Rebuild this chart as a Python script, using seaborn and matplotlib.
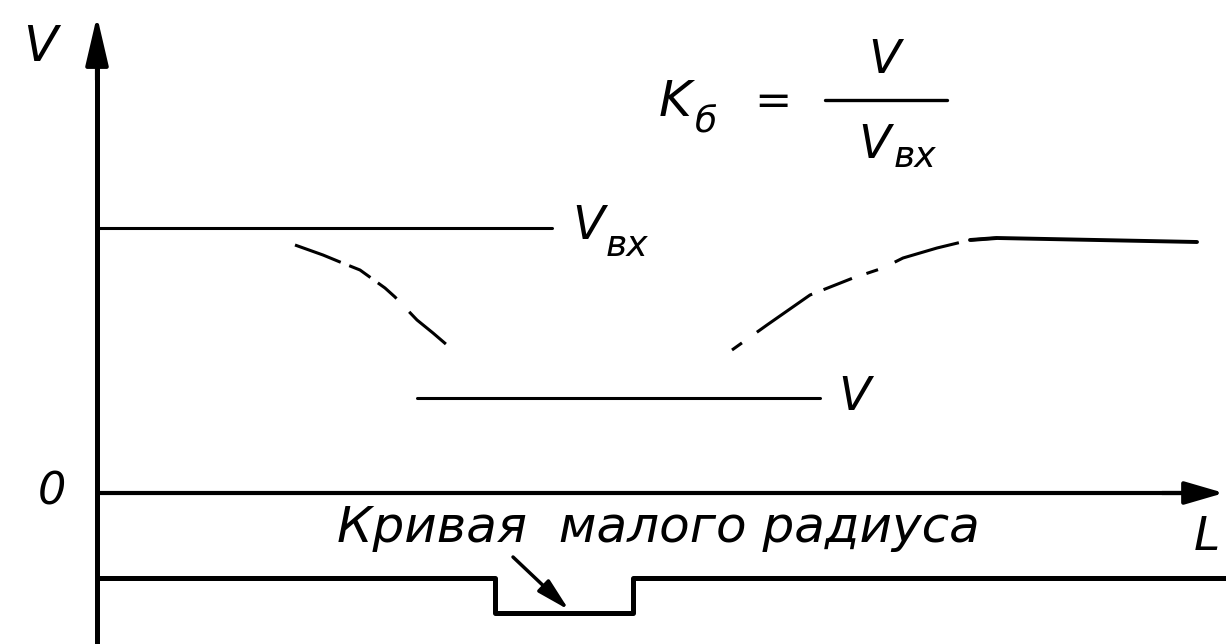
import pandas as pd
import matplotlib.pyplot as plt
import seaborn as sns

# Schematic values (L along the track, V speed), origin at the axes crossing
v_in_level = 265          # V_вх, speed before the curve
v_level = 95              # V, speed inside the curve
v_in_span = [0, 455]
v_span = [320, 723]

# actual speed: braking before the curve, speeding up after it
brake_L = [198, 226, 243, 263, 288, 298, 320, 336, 350]
brake_V = [248, 238, 231, 223, 205, 196, 173, 160, 148]
accel_L = [635, 656, 670, 713, 756, 786, 806, 840, 873, 900]
accel_V = [143, 158, 168, 198, 215, 225, 235, 245, 253, 255]
flat_L = [873, 900, 1000, 1100]
flat_V = [253, 255, 253, 251]

# track plan: straight, small-radius curve (notch), straight
plan_L = [0, 398, 398, 536, 536, 1129]
plan_V = [-85, -85, -120, -120, -85, -85]

L_max, V_max, V_min = 1125, 473, -151

sns.set_style("white")
plt.rcParams['font.family'] = ['DejaVu Sans']

fig = plt.figure(figsize=(12.26, 6.44), dpi=100)
ax = fig.add_axes([0, 0, 1, 1])
ax.set_xlim(-97, 1129)
ax.set_ylim(-151, 493)
ax.axis('off')

lines = pd.DataFrame({'L': v_in_span, 'V': [v_in_level] * 2})
sns.lineplot(data=lines, x='L', y='V', ax=ax, color='black', lw=2.2,
             estimator=None, sort=False)
lines = pd.DataFrame({'L': v_span, 'V': [v_level] * 2})
sns.lineplot(data=lines, x='L', y='V', ax=ax, color='black', lw=2.2,
             estimator=None, sort=False)

sns.lineplot(x=brake_L, y=brake_V, ax=ax, color='black', lw=2.2,
             estimator=None, sort=False, linestyle=(0, (16, 3, 8, 3, 8, 6)))
sns.lineplot(x=accel_L, y=accel_V, ax=ax, color='black', lw=2.2,
             estimator=None, sort=False, linestyle=(0, (4, 6, 22, 4, 10, 5)))
sns.lineplot(x=flat_L, y=flat_V, ax=ax, color='black', lw=2.8,
             estimator=None, sort=False)

sns.lineplot(x=plan_L, y=plan_V, ax=ax, color='black', lw=3.6,
             estimator=None, sort=False)

# axes with arrows
ax.plot([0, 0], [V_min, V_max - 30], color='black', lw=3.6, solid_capstyle='butt')
ax.plot([0, L_max - 25], [0, 0], color='black', lw=3.0, solid_capstyle='butt')
ax.annotate('', xy=(0, V_max + 4), xytext=(0, V_max - 60),
            arrowprops=dict(arrowstyle='-|>,head_length=1.5,head_width=0.35',
                            color='black', lw=3, mutation_scale=20,
                            shrinkA=0, shrinkB=0))
ax.annotate('', xy=(L_max + 2, 0), xytext=(L_max - 60, 0),
            arrowprops=dict(arrowstyle='-|>,head_length=1.2,head_width=0.35',
                            color='black', lw=3, mutation_scale=20,
                            shrinkA=0, shrinkB=0))

# pointer to the curve
ax.annotate('', xy=(472, -117), xytext=(416, -64),
            arrowprops=dict(arrowstyle='-|>,head_length=1.0,head_width=0.25',
                            color='black', lw=2.5, mutation_scale=20,
                            shrinkA=0, shrinkB=0))

it = dict(style='italic', color='black', ha='center', va='center')
ax.text(-57, 446, 'V', fontsize=36, **it)
ax.text(-45, 1, '0', fontsize=32, **it)
ax.text(1110, -44, 'L', fontsize=34, **it)
ax.text(561, -35, 'Кривая  малого радиуса', fontsize=36, **it)

ax.text(491, 267, 'V', fontsize=34, **it)
ax.text(530, 247, 'вх', fontsize=26, **it)
ax.text(757, 96, 'V', fontsize=34, **it)

# formula K_б = V / V_вх
ax.text(578, 391, 'K', fontsize=36, **it)
ax.text(609, 372, 'б', fontsize=26, **it)
ax.text(676, 391, '=', fontsize=32, **it)
ax.plot([728, 850], [393, 393], color='black', lw=2.4)
ax.text(788, 433, 'V', fontsize=34, **it)
ax.text(778, 348, 'V', fontsize=34, **it)
ax.text(818, 336, 'вх', fontsize=26, **it)

fig.savefig('out.png', dpi=100)
